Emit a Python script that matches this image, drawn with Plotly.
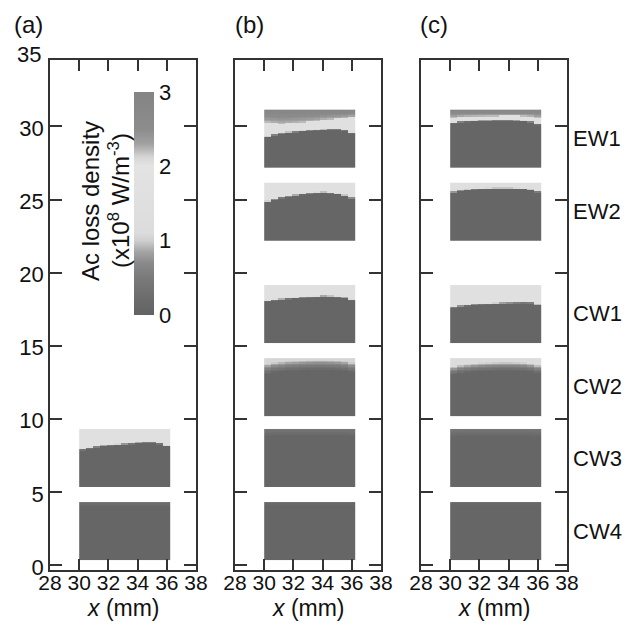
import numpy as np
import plotly.graph_objects as go

# ---------------- data ----------------
panel_labels = ["(a)", "(b)", "(c)"]
coil_names = ["CW4", "CW3", "CW2", "CW1", "EW2", "EW1"]
coil_bottom = [0.3, 5.3, 10.2, 15.2, 22.2, 27.2]     # mm
coil_top = [4.3, 9.3, 14.15, 19.15, 26.15, 31.15]     # mm
x_left, x_right = 30.0, 36.2                          # mm
n_rows = 40

x_ticks = [28, 30, 32, 34, 36, 38]
y_ticks = [0, 5, 10, 15, 20, 25, 30]
cbar_ticks = [0, 1, 2, 3]

dark_value = 0.08

# each block: depth (mm from block top) where the dark core begins, per column (13 columns)
# ---- panel (a)
a_cw4_depth = [0.30, 0.35, 0.35, 0.35, 0.35, 0.35, 0.35, 0.35, 0.35, 0.35, 0.35, 0.35, 0.30]
a_cw3_depth = [1.48, 1.38, 1.30, 1.23, 1.19, 1.15, 1.12, 1.08, 1.03, 1.00, 1.00, 1.08, 1.25]
# ---- panel (b)
b_cw4_depth = [0.30, 0.30, 0.30, 0.30, 0.30, 0.30, 0.30, 0.30, 0.30, 0.30, 0.30, 0.30, 0.30]
b_cw3_depth = [0.55, 0.50, 0.50, 0.50, 0.50, 0.50, 0.50, 0.50, 0.50, 0.50, 0.50, 0.50, 0.55]
b_cw2_depth = [1.10, 1.00, 0.95, 0.90, 0.88, 0.85, 0.83, 0.82, 0.82, 0.83, 0.85, 0.90, 1.00]
b_cw1_depth = [1.15, 1.07, 1.02, 0.97, 0.94, 0.90, 0.87, 0.85, 0.82, 0.83, 0.86, 0.92, 1.05]
b_ew2_depth = [1.33, 1.20, 1.08, 1.00, 0.92, 0.85, 0.80, 0.75, 0.73, 0.77, 0.84, 0.93, 1.10]
b_ew1_depth = [1.92, 1.78, 1.69, 1.62, 1.58, 1.53, 1.49, 1.45, 1.42, 1.38, 1.38, 1.47, 1.65]
b_ew1_gray = [0.86, 0.92, 0.95, 0.93, 0.90, 0.86, 0.82, 0.76, 0.70, 0.66, 0.63, 0.58, 0.52]
# ---- panel (c)
c_cw4_depth = [0.25, 0.25, 0.25, 0.25, 0.25, 0.25, 0.25, 0.25, 0.25, 0.25, 0.25, 0.25, 0.25]
c_cw3_depth = [0.60, 0.55, 0.55, 0.55, 0.55, 0.55, 0.55, 0.55, 0.55, 0.55, 0.55, 0.55, 0.60]
c_cw2_depth = [1.15, 1.05, 1.00, 0.95, 0.92, 0.90, 0.88, 0.87, 0.87, 0.88, 0.90, 0.95, 1.05]
c_cw1_depth = [1.58, 1.50, 1.45, 1.40, 1.37, 1.35, 1.33, 1.31, 1.30, 1.28, 1.27, 1.28, 1.42]
c_ew2_depth = [0.70, 0.60, 0.52, 0.48, 0.45, 0.43, 0.42, 0.42, 0.42, 0.43, 0.45, 0.52, 0.68]
c_ew1_depth = [0.95, 0.88, 0.85, 0.82, 0.80, 0.80, 0.78, 0.78, 0.78, 0.80, 0.82, 0.88, 1.05]
c_ew1_gray = [0.55, 0.50, 0.48, 0.47, 0.46, 0.45, 0.45, 0.44, 0.44, 0.44, 0.45, 0.48, 0.55]

# (coil index, depth profile, band value, fade width, gray band profile or None)
panels = [
    [(0, a_cw4_depth, 0.35, None, None),
     (1, a_cw3_depth, 1.55, 0.15, None)],
    [(0, b_cw4_depth, 0.25, None, None),
     (1, b_cw3_depth, 0.45, None, None),
     (2, b_cw2_depth, 1.05, 0.70, None),
     (3, b_cw1_depth, 1.55, 0.15, None),
     (4, b_ew2_depth, 1.55, 0.15, None),
     (5, b_ew1_depth, 1.55, 0.15, b_ew1_gray)],
    [(0, c_cw4_depth, 0.20, None, None),
     (1, c_cw3_depth, 0.45, None, None),
     (2, c_cw2_depth, 1.10, 0.60, None),
     (3, c_cw1_depth, 1.55, 0.15, None),
     (4, c_ew2_depth, 1.50, 0.12, None),
     (5, c_ew1_depth, 1.55, 0.12, c_ew1_gray)],
]
gray_top_value, gray_bottom_value = 2.9, 2.2

# nonmonotonic gray colour scale of the colour bar (0 .. 3)
cs_vals = [0.0, 0.2, 0.5, 0.7, 0.85, 1.0, 1.1, 2.0, 2.12, 2.3, 2.5, 3.0]
cs_cols = ["#626262", "#6b6b6b", "#7a7a7a", "#8a8a8a", "#a4a4a4", "#cfcfcf",
           "#dcdcdc", "#e3e3e3", "#d6d6d6", "#a2a2a2", "#8c8c8c", "#848484"]
colorscale = [[v / 3.0, c] for v, c in zip(cs_vals, cs_cols)]


def block_z(coil, depth, band, fade, gray):
    n_cols = len(depth)
    y_edges = np.linspace(coil_bottom[coil], coil_top[coil], n_rows + 1)
    x_edges = np.linspace(x_left, x_right, n_cols + 1)
    yc = 0.5 * (y_edges[:-1] + y_edges[1:])
    d = coil_top[coil] - yc
    z = np.zeros((n_rows, n_cols))
    for j in range(n_cols):
        b = depth[j]
        f = b if fade is None else fade
        for i in range(n_rows):
            di = d[i]
            if gray is not None and di < gray[j]:
                v = gray_top_value + (gray_bottom_value - gray_top_value) * di / gray[j]
            elif di < b - f:
                v = band
            elif di < b:
                v = band + (dark_value - band) * (di - (b - f)) / f
            else:
                v = dark_value
            z[i, j] = v
    return x_edges, y_edges, z


# ---------------- layout geometry ----------------
W, H = 638, 626
ml, mr, mt, mb = 50, 71, 60, 56
pw = W - ml - mr
ph = H - mt - mb
px_dom = [(50, 196), (235, 381), (421, 567)]
domains = [[(a - ml) / pw, (b - ml) / pw] for a, b in px_dom]

fig = go.Figure()
for p, blocks in enumerate(panels):
    xa = "x" if p == 0 else f"x{p+1}"
    ya = "y" if p == 0 else f"y{p+1}"
    for (coil, depth, band, fade, gray) in blocks:
        xe, ye, z = block_z(coil, depth, band, fade, gray)
        fig.add_trace(go.Heatmap(x=xe, y=ye, z=z, coloraxis="coloraxis",
                                 xaxis=xa, yaxis=ya, zsmooth=False,
                                 hoverinfo="skip"))

font_family = "Liberation Sans, Arial, sans-serif"
txt_color = "#111111"
fs = 22
axis_color = "#333333"
common_x = dict(range=[28, 38], tickvals=x_ticks, ticks="inside", ticklen=11,
                tickwidth=1.5, tickcolor=axis_color, showline=True, linewidth=1.5,
                linecolor=axis_color, mirror="ticks", showgrid=False, zeroline=False,
                ticklabelstandoff=-7,
                tickfont=dict(size=21, color=txt_color, family=font_family))
common_y = dict(range=[-0.35, 34.55], tickvals=y_ticks, ticks="inside", ticklen=12,
                tickwidth=1.5, tickcolor=axis_color, showline=True, linewidth=1.5,
                linecolor=axis_color, mirror="ticks", showgrid=False, zeroline=False,
                ticklabelshift=2,
                tickfont=dict(size=fs, color=txt_color, family=font_family))

layout = dict(width=W, height=H, margin=dict(l=ml, r=mr, t=mt, b=mb),
              paper_bgcolor="white", plot_bgcolor="white",
              font=dict(family=font_family, color=txt_color),
              showlegend=False)
for p in range(3):
    xk = "xaxis" if p == 0 else f"xaxis{p+1}"
    yk = "yaxis" if p == 0 else f"yaxis{p+1}"
    xd = dict(common_x, domain=domains[p], anchor="y" if p == 0 else f"y{p+1}")
    yd = dict(common_y, domain=[0, 1], anchor="x" if p == 0 else f"x{p+1}",
              showticklabels=(p == 0))
    layout[xk] = xd
    layout[yk] = yd

cb_top, cb_bot, cb_left = 92, 315, 134
layout["coloraxis"] = dict(
    cmin=0, cmax=3, colorscale=colorscale,
    colorbar=dict(x=(cb_left - ml) / pw, xanchor="left", xpad=0,
                  y=1 - ((cb_top + cb_bot) / 2 - mt) / ph, yanchor="middle", ypad=0,
                  len=(cb_bot - cb_top) / ph, lenmode="fraction", thickness=20,
                  outlinewidth=0, tickvals=cbar_ticks, ticks="",
                  tickfont=dict(size=fs, color=txt_color, family=font_family)))
fig.update_layout(**layout)

ann = []
label_px = [12, 233, 418]
for p, lab in enumerate(panel_labels):
    ann.append(dict(text=lab, xref="paper", yref="paper", x=(label_px[p] - ml) / pw,
                    y=1 + (mt - 24) / ph, xanchor="left", yanchor="middle",
                    showarrow=False, font=dict(size=24, color=txt_color)))
ann.append(dict(text="35", xref="paper", yref="paper", x=-7 / pw, y=1 + (mt - 54) / ph,
                xanchor="right", yanchor="middle", showarrow=False,
                font=dict(size=fs, color=txt_color)))
for p in range(3):
    ann.append(dict(text="<i>x</i> (mm)", xref="paper", yref="paper",
                    x=sum(domains[p]) / 2, y=-(608 - (H - mb)) / ph,
                    xanchor="center", yanchor="middle", showarrow=False,
                    font=dict(size=23, color=txt_color)))
for k, name in enumerate(coil_names):
    ann.append(dict(text=name, xref="paper", yref="y3", x=(571 - ml) / pw,
                    y=(coil_bottom[k] + coil_top[k]) / 2, xanchor="left", yanchor="middle",
                    showarrow=False, font=dict(size=fs, color=txt_color)))
cbar_title_lines = ["Ac loss density", "(x10<sup>8</sup> W/m<sup>-3</sup>)"]
cbar_title_px = [90, 119]
for line, xpx in zip(cbar_title_lines, cbar_title_px):
    ann.append(dict(text=line, xref="paper", yref="paper", x=(xpx - ml) / pw,
                    y=1 - (201 - mt) / ph, textangle=-90,
                    xanchor="center", yanchor="middle", showarrow=False,
                    font=dict(size=24, color=txt_color)))
fig.update_layout(annotations=ann)

fig.write_html("out.html", config={"displayModeBar": False},
               post_script="document.body.style.margin='0px';")
